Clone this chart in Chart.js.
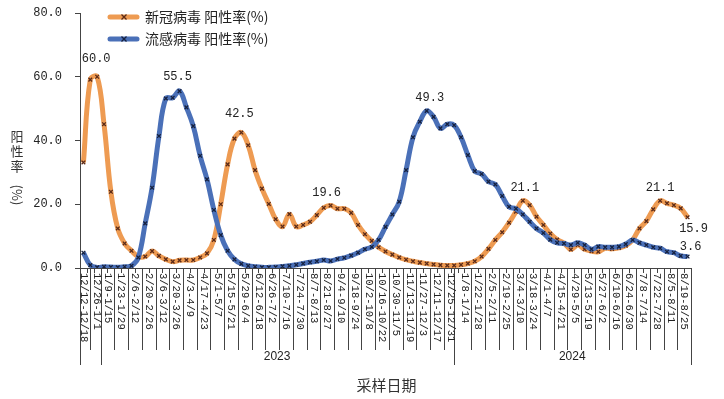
<!DOCTYPE html>
<html>
<head>
<meta charset="utf-8">
<script src="https://cdn.jsdelivr.net/npm/chart.js@4.4.1/dist/chart.umd.min.js"></script>
<style>
  html, body { margin: 0; padding: 0; background: #fff; }
  canvas { display: block; }
</style>
</head>
<body>
<canvas id="c" width="724" height="399"></canvas>
<script>
// 周次（2022/12/12 起，每周一条）
const weeks = [
  "12/12-12/18", "12/19-12/25", "12/26-1/1", "1/2-1/8", "1/9-1/15", "1/16-1/22",
  "1/23-1/29", "1/30-2/5", "2/6-2/12", "2/13-2/19", "2/20-2/26", "2/27-3/5",
  "3/6-3/12", "3/13-3/19", "3/20-3/26", "3/27-4/2", "4/3-4/9", "4/10-4/16",
  "4/17-4/23", "4/24-4/30", "5/1-5/7", "5/8-5/14", "5/15-5/21", "5/22-5/28",
  "5/29-6/4", "6/5-6/11", "6/12-6/18", "6/19-6/25", "6/26-7/2", "7/3-7/9",
  "7/10-7/16", "7/17-7/23", "7/24-7/30", "7/31-8/6", "8/7-8/13", "8/14-8/20",
  "8/21-8/27", "8/28-9/3", "9/4-9/10", "9/11-9/17", "9/18-9/24", "9/25-10/1",
  "10/2-10/8", "10/9-10/15", "10/16-10/22", "10/23-10/29", "10/30-11/5", "11/6-11/12",
  "11/13-11/19", "11/20-11/26", "11/27-12/3", "12/4-12/10", "12/11-12/17", "12/18-12/24",
  "12/25-12/31", "1/1-1/7", "1/8-1/14", "1/15-1/21", "1/22-1/28", "1/29-2/4",
  "2/5-2/11", "2/12-2/18", "2/19-2/25", "2/26-3/3", "3/4-3/10", "3/11-3/17",
  "3/18-3/24", "3/25-3/31", "4/1-4/7", "4/8-4/14", "4/15-4/21", "4/22-4/28",
  "4/29-5/5", "5/6-5/12", "5/13-5/19", "5/20-5/26", "5/27-6/2", "6/3-6/9",
  "6/10-6/16", "6/17-6/23", "6/24-6/30", "7/1-7/7", "7/8-7/14", "7/15-7/21",
  "7/22-7/28", "7/29-8/4", "8/5-8/11", "8/12-8/18", "8/19-8/25"
];

// 年份分组：起始周下标
const years = ["2022", "2023", "2024"];
const yearStart = [0, 3, 55];

// 新冠病毒 阳性率(%)
const covid = [
  33.1, 59.1, 60.0, 45.1, 23.9, 12.4, 7.7, 5.4, 3.6, 3.6,
  5.3, 3.8, 2.7, 2.0, 2.4, 2.5, 2.5, 3.3, 4.6, 8.8,
  20.0, 32.5, 40.6, 42.5, 38.5, 30.7, 24.9, 20.1, 15.3, 13.0,
  16.9, 13.0, 13.5, 14.5, 16.6, 18.9, 19.6, 18.6, 18.6, 17.3,
  13.5, 10.6, 8.5, 6.5, 5.2, 4.2, 3.3, 2.6, 2.1, 1.7,
  1.4, 1.1, 0.9, 0.8, 0.8, 1.0, 1.4, 2.1, 3.6, 6.0,
  8.8, 11.2, 14.2, 17.7, 21.1, 19.7, 16.1, 13.5, 10.8, 8.9,
  7.8, 5.8, 7.2, 5.9, 5.3, 5.1, 6.2, 6.0, 6.3, 7.0,
  8.8, 12.4, 14.7, 18.4, 21.1, 20.3, 19.7, 18.7, 15.9
];

// 流感病毒 阳性率(%)
const flu = [
  4.8, 0.9, 0.2, 0.4, 0.3, 0.2, 0.4, 0.7, 3.3, 14.0,
  25.2, 41.4, 53.2, 53.4, 55.5, 50.4, 44.5, 35.2, 27.8, 18.2,
  10.3, 5.4, 2.7, 1.3, 0.7, 0.4, 0.2, 0.2, 0.3, 0.5,
  0.7, 1.0, 1.4, 1.8, 2.1, 2.5, 2.2, 2.8, 3.2, 3.9,
  4.8, 5.9, 6.6, 8.8, 12.9, 16.8, 20.8, 30.7, 41.0, 45.9,
  49.3, 47.4, 43.8, 45.1, 44.8, 41.0, 35.4, 30.4, 29.5, 27.1,
  26.2, 22.6, 19.2, 18.6, 16.8, 14.5, 12.4, 11.0, 8.9, 7.9,
  7.7, 7.2, 7.9, 7.2, 5.9, 6.7, 6.5, 6.5, 6.7, 7.5,
  8.8, 7.9, 7.2, 6.5, 6.2, 5.1, 4.8, 3.8, 3.6
];

// 标注数值的点
const covidMarked = [2, 23, 36, 64, 84, 88];
const fluMarked = [14, 50, 88];

const yTicks = [0, 20, 40, 60, 80];

const ORANGE = "#EE9B52";
const BLUE = "#4A70B8";
const NUM_FONT = "12px 'Liberation Mono', monospace";
const CJK = "'Noto Sans CJK SC', sans-serif";

// 数值标签偏移（像素）
const labelOffset = {
  "0:2": [-1, -18], "0:23": [-2, -19], "0:36": [-4, -13], "0:64": [2, -13],
  "0:84": [0, -13], "0:88": [6, 12], "1:14": [-2, -14], "1:50": [3, -13], "1:88": [3, -10],
};

const decor = {
  id: "decor",
  afterDraw(chart) {
    const { ctx, chartArea: a, scales: { x } } = chart;
    const bnd = (k) => x.getPixelForValue(k - 0.5);
    const base = a.bottom;
    ctx.save();
    ctx.strokeStyle = "#444";
    ctx.lineWidth = 1;

    // 小刻度
    ctx.beginPath();
    for (let k = 0; k <= weeks.length; k++) {
      const px = Math.round(bnd(k)) + 0.5;
      ctx.moveTo(px, base);
      ctx.lineTo(px, base + 5);
    }
    // 标签分隔线
    const inner = [bnd(1) + 3];
    for (let k = 5; k < weeks.length; k += 2) if (k !== yearStart[2]) inner.push(bnd(k));
    for (const v of inner) {
      const px = Math.round(v) + 0.5;
      ctx.moveTo(px, base);
      ctx.lineTo(px, base + 82);
    }
    // 年份分隔线
    const yl = [bnd(0), bnd(yearStart[1]), bnd(yearStart[2]) - 4, bnd(weeks.length)];
    for (const v of yl) {
      const px = Math.round(v) + 0.5;
      ctx.moveTo(px, base);
      ctx.lineTo(px, base + 97);
    }
    ctx.stroke();

    // 周次标签（竖排）
    ctx.fillStyle = "#222";
    ctx.font = "10.5px 'Liberation Mono', monospace";
    ctx.textAlign = "left";
    ctx.textBaseline = "middle";
    weeks.forEach((w, i) => {
      if (i % 2) return;
      const lx = i < yearStart[1] ? x.getPixelForValue(i) : bnd(i);
      ctx.save();
      ctx.translate(lx, base + 5);
      ctx.rotate(Math.PI / 2);
      ctx.fillText(w, 0, 0);
      ctx.restore();
    });

    // 年份
    ctx.font = "12px 'Liberation Sans', Arial, sans-serif";
    ctx.textAlign = "center";
    for (let g = 1; g < years.length; g++) {
      const s = g === 1 ? yl[1] : yl[2];
      const e = g === 1 ? yl[2] : yl[3];
      ctx.fillText(years[g], (s + e) / 2, base + 89);
    }

    // 坐标轴标题
    ctx.font = "15px " + CJK;
    ctx.fillStyle = "#333";
    ctx.fillText("采样日期", (a.left + a.right) / 2 + 1, 385);
    ctx.font = "13px " + CJK;
    ["阳", "性", "率"].forEach((ch, k) => ctx.fillText(ch, 17, 136 + k * 15));
    ctx.save();
    ctx.translate(17, 195);
    ctx.rotate(Math.PI / 2);
    ctx.fillText("(%)", 0, 0);
    ctx.restore();

    // 数值标签
    ctx.font = NUM_FONT;
    ctx.fillStyle = "#222";
    const marked = [covidMarked, fluMarked];
    marked.forEach((list, ds) => {
      const meta = chart.getDatasetMeta(ds);
      const vals = chart.data.datasets[ds].data;
      for (const i of list) {
        const p = meta.data[i];
        const off = labelOffset[ds + ":" + i] || [0, -14];
        ctx.fillText(vals[i].toFixed(1), p.x + off[0], p.y + off[1]);
      }
    });

    // 图例
    const items = chart.data.datasets;
    items.forEach((d, k) => {
      const ly = 17 + k * 22;
      ctx.strokeStyle = d.borderColor;
      ctx.lineWidth = 5;
      ctx.lineCap = "round";
      ctx.beginPath();
      ctx.moveTo(110, ly);
      ctx.lineTo(137, ly);
      ctx.stroke();
      ctx.strokeStyle = d.pointBorderColor;
      ctx.lineWidth = 1.3;
      ctx.lineCap = "butt";
      ctx.beginPath();
      ctx.moveTo(121.5, ly - 2.5); ctx.lineTo(126.5, ly + 2.5);
      ctx.moveTo(126.5, ly - 2.5); ctx.lineTo(121.5, ly + 2.5);
      ctx.stroke();
      ctx.fillStyle = "#222";
      ctx.font = "14px " + CJK;
      ctx.textAlign = "left";
      ctx.fillText(d.label, 145, ly);
    });
    ctx.restore();
  },
};

new Chart(document.getElementById("c"), {
  type: "line",
  data: {
    labels: weeks,
    datasets: [
      {
        label: "新冠病毒 阳性率(%)",
        data: covid,
        borderColor: ORANGE,
        borderWidth: 5,
        tension: 0.4,
        pointStyle: "crossRot",
        pointRadius: 2.6,
        pointBorderColor: "#5a2a18",
        pointBorderWidth: 1.3,
        order: 2,
      },
      {
        label: "流感病毒 阳性率(%)",
        data: flu,
        borderColor: BLUE,
        borderWidth: 5,
        tension: 0.4,
        pointStyle: "crossRot",
        pointRadius: 2.6,
        pointBorderColor: "#16213f",
        pointBorderWidth: 1.3,
        order: 1,
      },
    ],
  },
  options: {
    responsive: false,
    animation: false,
    devicePixelRatio: 1,
    layout: { padding: { top: 13, right: 33, left: 0, bottom: 0 } },
    plugins: { legend: { display: false }, tooltip: { enabled: false } },
    scales: {
      x: {
        offset: true,
        grid: { display: false },
        border: { display: true, color: "#444" },
        ticks: { display: false },
        afterFit(s) {
          s.height = 131;
          s.paddingLeft = 0; s.paddingRight = 0; s.paddingTop = 0; s.paddingBottom = 0;
        },
      },
      y: {
        min: 0,
        max: 80,
        afterBuildTicks(s) { s.ticks = yTicks.map((v) => ({ value: v })); },
        ticks: {
          padding: 13,
          color: "#222",
          font: { family: "'Liberation Mono', monospace", size: 12 },
          callback: (v) => v.toFixed(1),
        },
        grid: { drawOnChartArea: false, tickLength: 5, color: "#444" },
        border: { color: "#444" },
        afterFit(s) {
          s.width = 80;
          s.paddingTop = 0; s.paddingBottom = 0;
        },
      },
    },
  },
  plugins: [decor],
});
</script>
</body>
</html>
